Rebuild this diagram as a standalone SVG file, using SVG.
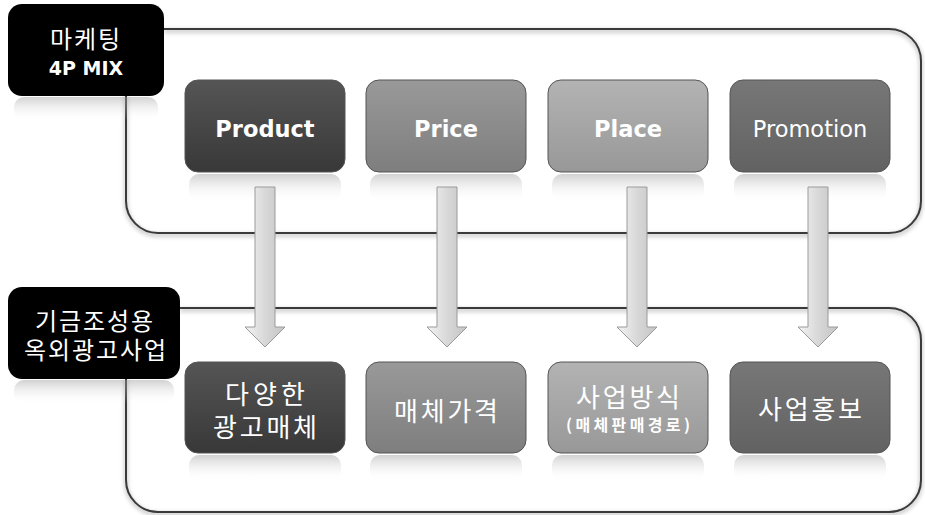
<svg xmlns="http://www.w3.org/2000/svg" width="925" height="515" viewBox="0 0 925 515">
<defs>
<linearGradient id="gDark" x1="0" y1="0" x2="0" y2="1"><stop offset="0" stop-color="#555"/><stop offset="1" stop-color="#383838"/></linearGradient>
<linearGradient id="gMid" x1="0" y1="0" x2="0" y2="1"><stop offset="0" stop-color="#999"/><stop offset="1" stop-color="#7e7e7e"/></linearGradient>
<linearGradient id="gLight" x1="0" y1="0" x2="0" y2="1"><stop offset="0" stop-color="#b3b3b3"/><stop offset="1" stop-color="#989898"/></linearGradient>
<linearGradient id="gPromo" x1="0" y1="0" x2="0" y2="1"><stop offset="0" stop-color="#777"/><stop offset="1" stop-color="#626262"/></linearGradient>
<linearGradient id="gRefl" x1="0" y1="0" x2="0" y2="1"><stop offset="0" stop-color="#999" stop-opacity="0.45"/><stop offset="1" stop-color="#fff" stop-opacity="0"/></linearGradient>
<linearGradient id="gArrow" x1="0" y1="0" x2="1" y2="0"><stop offset="0" stop-color="#f4f4f4"/><stop offset="0.5" stop-color="#d8d8d8"/><stop offset="1" stop-color="#c4c4c4"/></linearGradient>
<filter id="blur" x="-10%" y="-50%" width="120%" height="200%"><feGaussianBlur stdDeviation="2"/></filter>
</defs>
<style>
.frame{fill:none;stroke:#3a3a3a;stroke-width:2}
.frameSh{fill:none;stroke:#bbb;stroke-width:3;filter:url(#blur)}
.label{fill:#000}
.lt{fill:#fff;font-family:"Noto Sans CJK KR","DejaVu Sans",sans-serif;font-size:24px;text-anchor:middle}
.lb{fill:#fff;font-family:"DejaVu Sans",sans-serif;font-weight:bold;font-size:19px;text-anchor:middle}
.node{stroke:#555;stroke-width:1}
.en{fill:#fff;font-family:"DejaVu Sans",sans-serif;font-size:22.5px;text-anchor:middle}
.b{font-weight:bold}
.ko{fill:#fff;font-family:"Noto Sans CJK KR",sans-serif;font-size:26px;text-anchor:middle}
.kos{fill:#fff;font-family:"Noto Sans CJK KR",sans-serif;font-size:16px;font-weight:bold;text-anchor:middle}
.refl{fill:url(#gRefl)}
.arrow{fill:url(#gArrow);stroke:#9a9a9a;stroke-width:1}
</style>

<g id="frame-top">
<path class="frameSh" d="M164,31 H889 A32,32 0 0 1 921,63 V203 A32,32 0 0 1 889,235 H158 A32,32 0 0 1 126,203 V96"/>
<path class="frame" d="M164,29 H889 A32,32 0 0 1 921,61 V201 A32,32 0 0 1 889,233 H158 A32,32 0 0 1 126,201 V96"/>
</g>
<g id="frame-bottom">
<path class="frameSh" d="M180,310 H889 A32,32 0 0 1 921,342 V482 A32,32 0 0 1 889,514 H158 A32,32 0 0 1 126,482 V379"/>
<path class="frame" d="M180,308 H889 A32,32 0 0 1 921,340 V480 A32,32 0 0 1 889,512 H158 A32,32 0 0 1 126,480 V379"/>
</g>

<g id="label-4p">
<rect class="refl" x="14" y="97" width="144" height="24" rx="10"/>
<rect class="label" x="8" y="4" width="156" height="92" rx="14"/>
<text class="lt" x="86" y="48" letter-spacing="2">마케팅</text>
<text class="lb" x="86" y="75">4P MIX</text>
</g>
<g id="label-biz">
<rect class="refl" x="14" y="380" width="160" height="24" rx="10"/>
<rect class="label" x="8" y="287" width="172" height="92" rx="14"/>
<text class="lt" x="94" y="330" textLength="118" lengthAdjust="spacing">기금조성용</text>
<text class="lt" x="95" y="359" textLength="142" lengthAdjust="spacing">옥외광고사업</text>
</g>

<g id="node-product">
<rect class="refl" x="189" y="174" width="152" height="28" rx="10"/>
<rect class="node" x="185" y="80" width="160" height="92" rx="13" fill="url(#gDark)"/>
<text class="en b" x="265" y="137">Product</text>
</g>
<g id="node-price">
<rect class="refl" x="370" y="174" width="152" height="28" rx="10"/>
<rect class="node" x="366" y="80" width="160" height="92" rx="13" fill="url(#gMid)" stroke="#888"/>
<text class="en b" x="446" y="137">Price</text>
</g>
<g id="node-place">
<rect class="refl" x="552" y="174" width="152" height="28" rx="10"/>
<rect class="node" x="548" y="80" width="160" height="92" rx="13" fill="url(#gLight)" stroke="#999"/>
<text class="en b" x="628" y="137">Place</text>
</g>
<g id="node-promotion">
<rect class="refl" x="734" y="174" width="152" height="28" rx="10"/>
<rect class="node" x="730" y="80" width="160" height="92" rx="13" fill="url(#gPromo)"/>
<text class="en" x="810" y="137" font-size="24">Promotion</text>
</g>

<g id="node-media">
<rect class="refl" x="189" y="455" width="152" height="26" rx="10"/>
<rect class="node" x="185" y="362" width="160" height="91" rx="13" fill="url(#gDark)"/>
<text class="ko" x="265" y="404" textLength="80" lengthAdjust="spacing">다양한</text>
<text class="ko" x="265" y="437" textLength="104" lengthAdjust="spacing">광고매체</text>
</g>
<g id="node-mediaprice">
<rect class="refl" x="370" y="455" width="152" height="26" rx="10"/>
<rect class="node" x="366" y="362" width="160" height="91" rx="13" fill="url(#gMid)" stroke="#888"/>
<text class="ko" x="446" y="421" textLength="104" lengthAdjust="spacing">매체가격</text>
</g>
<g id="node-method">
<rect class="refl" x="552" y="455" width="152" height="26" rx="10"/>
<rect class="node" x="548" y="362" width="160" height="91" rx="13" fill="url(#gLight)" stroke="#999"/>
<text class="ko" x="628" y="407" textLength="104" lengthAdjust="spacing">사업방식</text>
<text class="kos" x="628" y="431" textLength="124" lengthAdjust="spacing">(매체판매경로)</text>
</g>
<g id="node-promo-ko">
<rect class="refl" x="734" y="455" width="152" height="26" rx="10"/>
<rect class="node" x="730" y="362" width="160" height="91" rx="13" fill="url(#gPromo)"/>
<text class="ko" x="810" y="419" textLength="104" lengthAdjust="spacing">사업홍보</text>
</g>

<g id="connectors">
<path class="arrow" d="M255,187 H275 V327 H285 L265,347 L245,327 H255 Z"/>
<path class="arrow" d="M437,187 H457 V327 H467 L447,347 L427,327 H437 Z"/>
<path class="arrow" d="M627,187 H647 V327 H657 L637,347 L617,327 H627 Z"/>
<path class="arrow" d="M808,187 H828 V327 H838 L818,347 L798,327 H808 Z"/>
</g>
</svg>
